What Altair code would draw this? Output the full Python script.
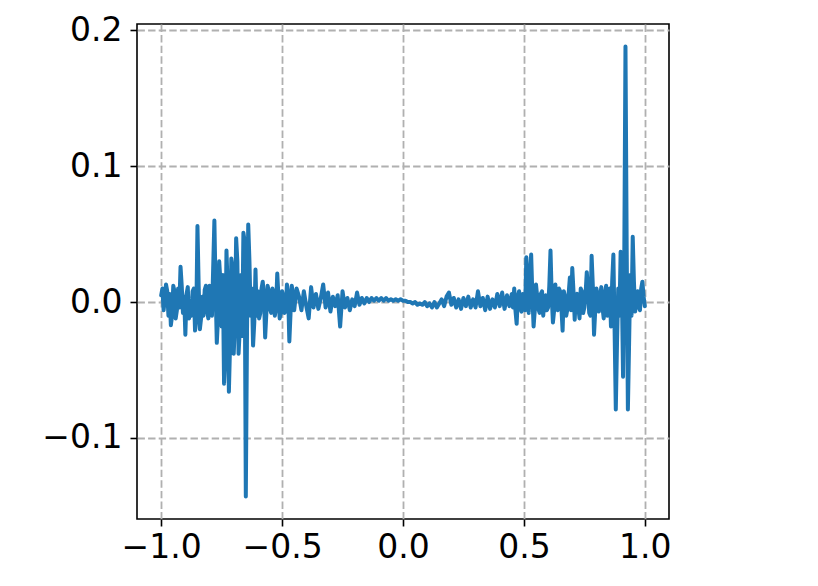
import altair as alt
import pandas as pd

# main samples: x = -1.00 .. 1.00 in steps of 0.01
x_start = -1.0
x_step = 0.01
y_values = [
    0.005, -0.006, 0.013, -0.010, -0.017, 0.012, -0.012, 0.010, 0.026, -0.008,   # -1.00 .. -0.91
    -0.024, 0.011, -0.005, 0.008, -0.021, 0.056, -0.020, 0.004, 0.009, -0.006,   # -0.90 .. -0.81
    0.012, -0.010, 0.060, -0.030, 0.030, -0.018, -0.060, 0.038, -0.066, 0.032,   # -0.80 .. -0.71
    -0.038, 0.047, -0.038, 0.020, 0.051, -0.143, 0.057, -0.010, -0.032, 0.024,   # -0.70 .. -0.61
    0.008, -0.008, 0.015, -0.026, 0.012, -0.005, 0.010, -0.010, 0.021, -0.012,   # -0.60 .. -0.51
    0.008, -0.008, 0.013, -0.029, 0.012, -0.006, 0.010, 0.004, -0.006, 0.008,    # -0.50 .. -0.41
    -0.003, -0.012, 0.011, -0.004, 0.006, -0.005, 0.003, 0.013, -0.004, 0.007,  # -0.40 .. -0.31
    -0.007, 0.004, -0.003, 0.005, -0.018, 0.008, -0.004, 0.003, -0.006, 0.002,  # -0.30 .. -0.21
    -0.003, 0.007, -0.002, 0.003, -0.001, 0.003, 0.000, 0.003, 0.001, 0.003,    # -0.20 .. -0.11
    0.001, 0.003, 0.001, 0.003, 0.001, 0.002, 0.001, 0.002, 0.001, 0.002,       # -0.10 .. -0.01
    0.001,                                                                      # 0.00
    0.001, 0.000, 0.000, -0.001, 0.000, -0.002, -0.001, -0.002, 0.000, -0.003,     # 0.01 .. 0.10
    -0.001, -0.004, 0.000, -0.004, -0.001, 0.002, -0.003, 0.004, 0.007, -0.002,    # 0.11 .. 0.20
    0.003, -0.004, 0.002, -0.005, 0.003, -0.003, 0.004, -0.004, 0.002, -0.004,     # 0.21 .. 0.30
    0.008, -0.003, 0.003, -0.006, 0.004, -0.005, 0.002, -0.004, 0.006, -0.003,     # 0.31 .. 0.40
    0.007, -0.005, 0.005, -0.003, 0.006, 0.010, -0.016, 0.008, -0.007, 0.004,      # 0.41 .. 0.50
    0.033, -0.008, 0.035, -0.018, 0.013, -0.005, 0.006, -0.010, 0.005, -0.004,     # 0.51 .. 0.60
    0.038, -0.015, 0.013, -0.006, 0.008, -0.021, 0.004, -0.005, 0.018, 0.025,      # 0.61 .. 0.70
    -0.013, 0.006, -0.012, 0.008, -0.004, 0.022, -0.008, 0.034, -0.024, 0.010,     # 0.71 .. 0.80
    -0.007, 0.011, -0.012, 0.012, -0.004, -0.018, 0.035, -0.079, 0.010, 0.037,     # 0.81 .. 0.90
    -0.055, 0.188, -0.079, 0.020, 0.048, -0.007, 0.008, -0.006, 0.015, -0.003,     # 0.91 .. 1.00
]
x_values = [round(x_start + i * x_step, 2) for i in range(len(y_values))]

# extra in-between samples in the busy regions (left cluster -1.0..-0.45)
left_extra_x = [
    -0.995, -0.985, -0.975, -0.965, -0.955, -0.945, -0.935, -0.925, -0.915, -0.905,
    -0.895, -0.885, -0.875, -0.865, -0.855, -0.845, -0.835, -0.825, -0.815, -0.805,
    -0.795, -0.785, -0.775, -0.765, -0.755, -0.745, -0.735, -0.725, -0.715, -0.705,
    -0.695, -0.685, -0.675, -0.665, -0.655, -0.645, -0.635, -0.625, -0.615, -0.605,
    -0.595, -0.585, -0.575, -0.565, -0.555, -0.545, -0.535, -0.525, -0.515, -0.505,
    -0.495, -0.485, -0.475, -0.465, -0.455,
]
left_extra_y = [
    0.010, 0.002, 0.008, 0.006, -0.010, 0.008, -0.006, -0.004, 0.012, 0.004,
    0.006, -0.012, -0.010, 0.010, -0.012, 0.012, -0.012, -0.010, 0.012, -0.012,
    0.004, 0.025, 0.010, -0.012, 0.015, 0.020, -0.040, 0.010, -0.030, 0.025,
    -0.015, 0.030, -0.020, -0.025, 0.045, -0.020, 0.030, 0.010, -0.015, -0.010,
    -0.012, 0.010, 0.005, -0.008, 0.008, -0.008, 0.006, -0.004, 0.004, -0.008,
    0.004, -0.006, 0.006, -0.008, 0.006,
]
# extra in-between samples in the right cluster 0.45..1.0
right_extra_x = [
    0.455, 0.465, 0.475, 0.485, 0.495, 0.505, 0.515, 0.525, 0.535, 0.545,
    0.555, 0.565, 0.575, 0.585, 0.595, 0.605, 0.615, 0.625, 0.635, 0.645,
    0.655, 0.665, 0.675, 0.685, 0.695, 0.705, 0.715, 0.725, 0.735, 0.745,
    0.755, 0.765, 0.775, 0.785, 0.795, 0.805, 0.815, 0.825, 0.835, 0.845,
    0.855, 0.865, 0.875, 0.885, 0.895, 0.905, 0.915, 0.925, 0.935, 0.945,
    0.955, 0.965, 0.975, 0.985, 0.995,
]
right_extra_y = [
    -0.004, -0.006, 0.004, -0.004, 0.006, -0.006, 0.010, 0.020, 0.005, -0.006,
    0.004, -0.008, 0.008, 0.004, -0.006, 0.012, 0.004, -0.006, -0.004, 0.010,
    -0.004, 0.008, -0.010, 0.006, -0.006, 0.008, 0.004, -0.004, 0.010, -0.008,
    0.006, 0.010, -0.010, 0.012, -0.006, 0.004, 0.004, -0.004, 0.006, -0.010,
    0.010, 0.015, -0.020, -0.030, -0.010, 0.010, 0.030, 0.040, -0.030, -0.010,
    0.015, 0.004, -0.004, 0.010, 0.004,
]

x_ticks = [-1.0, -0.5, 0.0, 0.5, 1.0]
y_ticks = [-0.1, 0.0, 0.1, 0.2]
x_domain = [-1.1, 1.1]
y_domain = [-0.1596, 0.2046]

df = pd.DataFrame({
    "x": x_values + left_extra_x + right_extra_x,
    "y": y_values + left_extra_y + right_extra_y,
}).sort_values("x").reset_index(drop=True)

font = "DejaVu Sans"
axis_common = dict(
    format=".1f", title=None, grid=True,
    gridDash=[7.4, 3.2], gridColor="#b0b0b0", gridWidth=1.8, gridOpacity=1,
    tickSize=7, tickWidth=1.6, tickColor="black",
    labelFont=font, labelFontSize=33, labelColor="black",
    domain=False, labelFlush=False,
)

chart = (
    alt.Chart(df)
    .mark_line(color="#1f77b4", strokeWidth=4, strokeJoin="round", strokeCap="round")
    .encode(
        x=alt.X(
            "x:Q",
            scale=alt.Scale(domain=x_domain, nice=False, zero=False),
            axis=alt.Axis(values=x_ticks, labelPadding=5, **axis_common),
        ),
        y=alt.Y(
            "y:Q",
            scale=alt.Scale(domain=y_domain, nice=False, zero=False),
            axis=alt.Axis(values=y_ticks, labelPadding=8, **axis_common),
        ),
        order="x:Q",
    )
    .properties(
        width=532,
        height=495,
        autosize=alt.AutoSizeParams(type="none"),
        padding={"left": 129, "top": 16, "right": 10, "bottom": 50},
    )
    .configure(background="white")
    .configure_view(stroke="black", strokeWidth=1.6)
)

chart.save("out.html", embed_options={"renderer": "svg", "actions": False})
